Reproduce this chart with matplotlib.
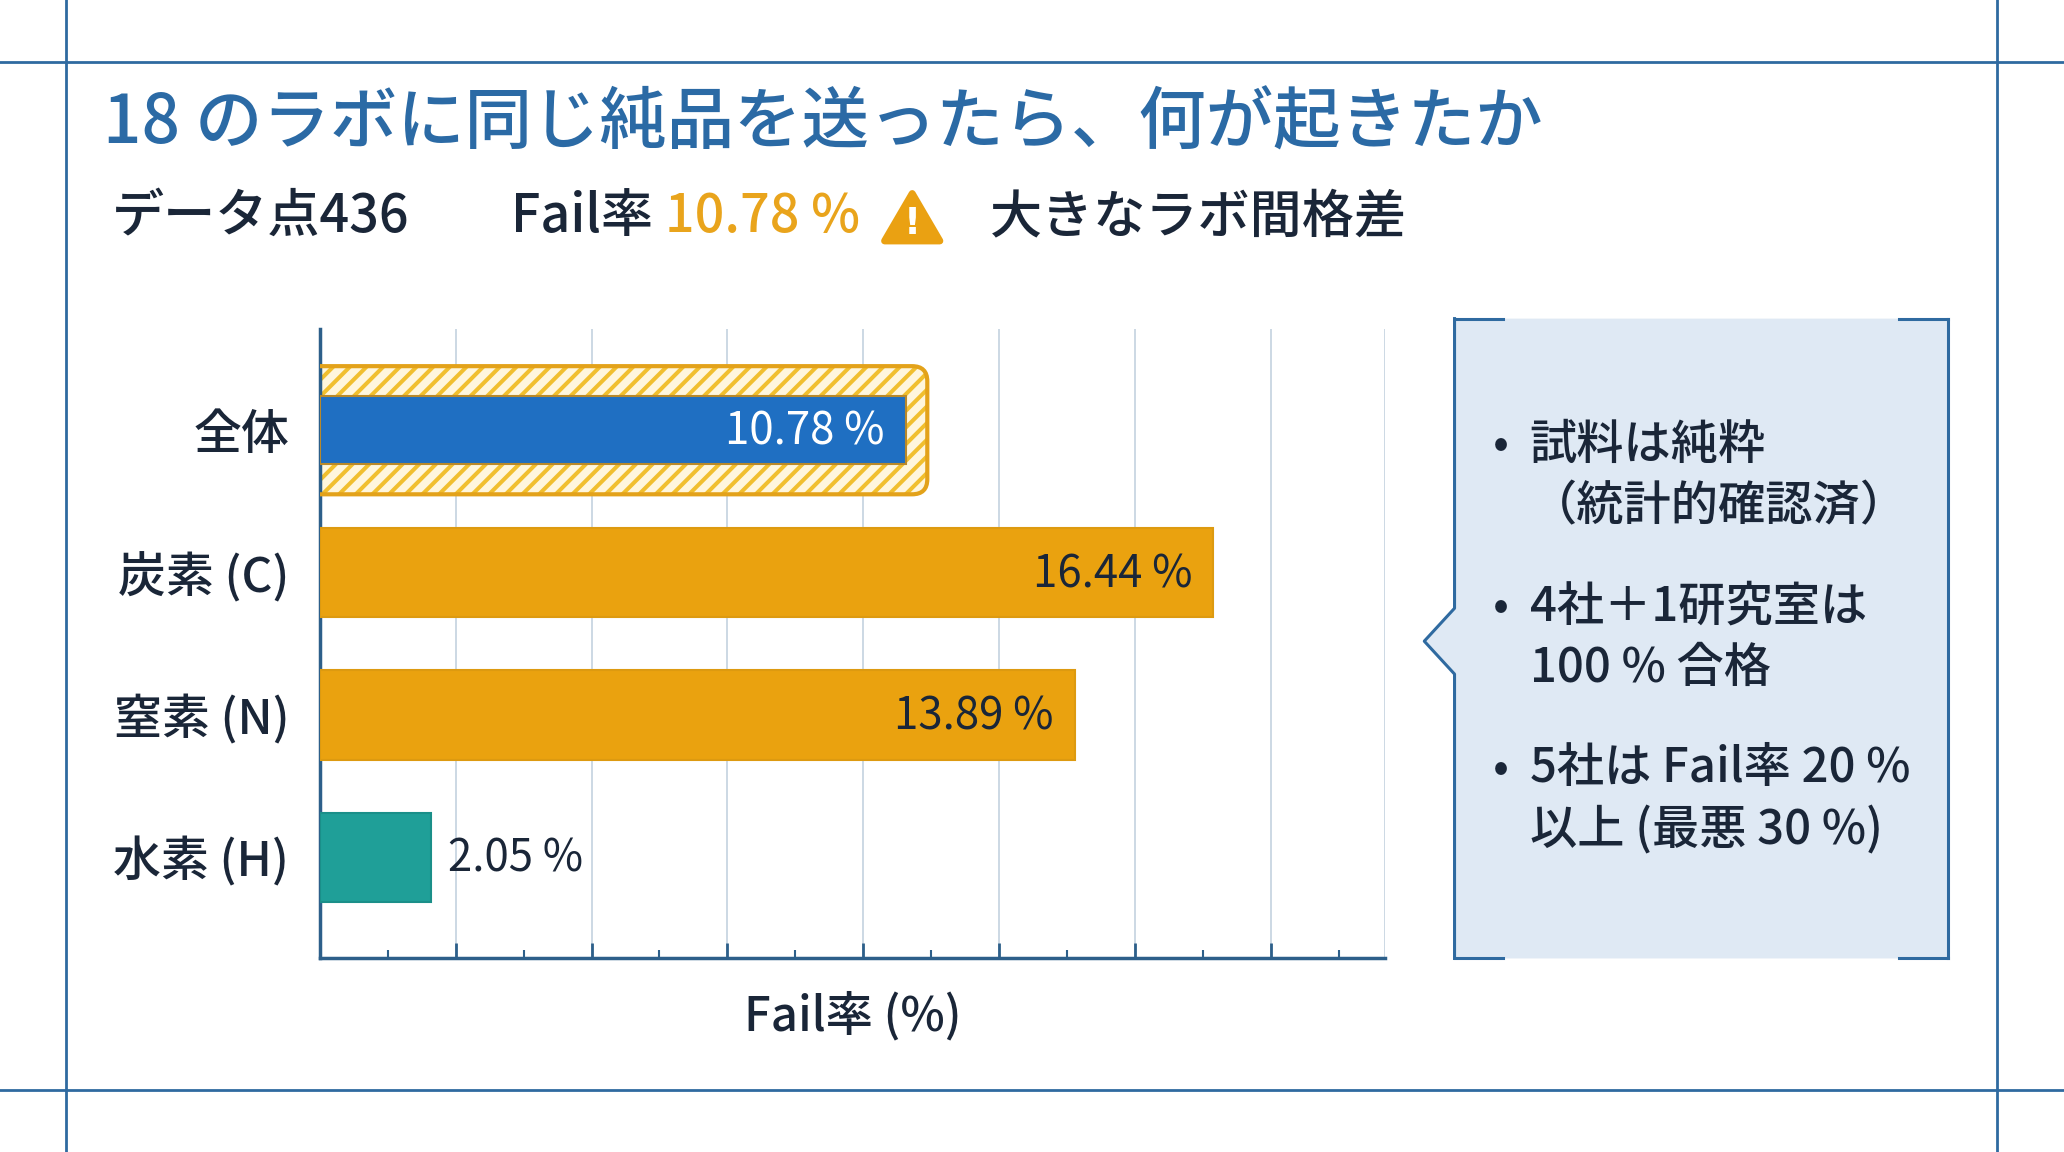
import matplotlib
matplotlib.use("Agg")
import matplotlib.pyplot as plt
from matplotlib.lines import Line2D
from matplotlib.patches import FancyBboxPatch, Polygon

plt.rcParams['font.family'] = ['Noto Sans CJK JP', 'DejaVu Sans']
plt.rcParams['hatch.linewidth'] = 2.9

# ---- datos ----
title = '18 のラボに同じ純品を送ったら、何が起きたか'
n_points = 436
overall_rate = 10.78
categories = ['全体', '炭素 (C)', '窒素 (N)', '水素 (H)']
fail_rates = [10.78, 16.44, 13.89, 2.05]
xlabel = 'Fail率 (%)'
notes = [
    ['試料は純粋', '（統計的確認済）'],
    ['4社＋1研究室は', '100 % 合格'],
    ['5社は Fail率 20 %', '以上 (最悪 30 %)'],
]

# ---- colores ----
BLUE_LINE = '#2f6aa0'
TITLE_BLUE = '#2b6aa5'
DARK = '#1a2638'
ORANGE = '#eaa20f'
BLUE_BAR = '#1f6fc2'
TEAL = '#1f9f98'
GRID = '#c8d5e2'
BOX_FILL = '#dfe9f4'

W, H = 1568, 875  # referencia (px) para posiciones


def fx(x):
    return x / W


def fy(y):
    return 1 - y / H


fig = plt.figure(figsize=(20.64, 11.52), dpi=100)
fig.patch.set_facecolor('white')

# marco de lineas
for y in (47, 828):
    fig.add_artist(Line2D([0, 1], [fy(y), fy(y)], transform=fig.transFigure,
                          color=BLUE_LINE, lw=2))
for x in (50, 1517):
    fig.add_artist(Line2D([fx(x), fx(x)], [0, 1], transform=fig.transFigure,
                          color=BLUE_LINE, lw=2))

# titulo y subtitulo
fig.text(fx(78), fy(94), title, fontsize=48.5, color=TITLE_BLUE,
         weight='medium', va='center', ha='left')
sub_y = fy(165)
fig.text(fx(85), sub_y, f'データ点{n_points}', fontsize=37.5, color=DARK,
         weight='medium', va='center', ha='left')
fig.text(fx(388), sub_y, 'Fail率', fontsize=37.5, color=DARK,
         weight='medium', va='center', ha='left')
fig.text(fx(505), sub_y, f'{overall_rate:.2f} %', fontsize=37.5, color='#e9a41c',
         weight='medium', va='center', ha='left')
fig.text(fx(752), sub_y, '大きなラボ間格差', fontsize=37.5, color=DARK,
         weight='medium', va='center', ha='left')

# icono de advertencia
tri = Polygon([[fx(672), fy(183)], [fx(714), fy(183)], [fx(693), fy(147)]],
              closed=True, transform=fig.transFigure, facecolor='#eaa112',
              edgecolor='#eaa112', lw=5, joinstyle='round')
fig.add_artist(tri)
fig.text(fx(693), fy(170), '!', fontsize=27, color='white', weight='bold',
         ha='center', va='center', family='DejaVu Sans')

# ---- grafico de barras ----
ax = fig.add_axes([fx(243), fy(728), fx(1052) - fx(243), fy(250) - fy(728)])
ypos = list(range(len(categories)))
ax.set_xlim(0, 19.6)
ax.set_ylim(3.71, -0.71)

ax.set_xticks([i * 2.5 for i in range(8)])
ax.set_xticks([i * 1.25 for i in range(16)], minor=True)
ax.grid(axis='x', which='major', color=GRID, lw=1.3)
ax.axvline(19.6, color=GRID, lw=1.3)
ax.set_axisbelow(True)
ax.tick_params(axis='x', which='major', direction='in', length=11, width=2,
               color='#2d5f8a', labelbottom=False)
ax.tick_params(axis='x', which='minor', direction='in', length=6, width=1.5,
               color='#2d5f8a')
ax.tick_params(axis='y', length=0, pad=22)
ax.set_yticks(ypos)
ax.set_yticklabels(categories, fontsize=34.5, color=DARK, weight='medium')
for s in ('top', 'right'):
    ax.spines[s].set_visible(False)
for s in ('left', 'bottom'):
    ax.spines[s].set_color('#2d5f8a')
    ax.spines[s].set_linewidth(2.5)

# marco rayado de "全体"
frame_w = fail_rates[0] + 0.4
frame_h = 0.9
ax.add_patch(FancyBboxPatch((-0.3, ypos[0] - frame_h / 2), frame_w + 0.3, frame_h,
                            boxstyle='round,pad=0,rounding_size=0.28',
                            mutation_aspect=0.38, facecolor='#fff6dc',
                            edgecolor='#f1bf2e', hatch='//', lw=0, zorder=2))
ax.add_patch(FancyBboxPatch((-0.3, ypos[0] - frame_h / 2), frame_w + 0.3, frame_h,
                            boxstyle='round,pad=0,rounding_size=0.28',
                            mutation_aspect=0.38, facecolor='none',
                            edgecolor='#e3a21a', lw=3, zorder=3))

bar_colors = [BLUE_BAR, ORANGE, ORANGE, TEAL]
bar_heights = [0.48, 0.63, 0.63, 0.63]
edge_colors = ['#b9892a', '#dd9a10', '#dd9a10', '#1a8f89']
ax.barh(ypos, fail_rates, height=bar_heights, color=bar_colors,
        edgecolor=edge_colors, lw=1.5, zorder=4)

label_colors = ['white', DARK, DARK, DARK]
for i, v in enumerate(fail_rates):
    if v > 5:
        ax.text(v - 0.38, ypos[i] + 0.01, f'{v:.2f} %', ha='right', va='center',
                fontsize=31.5, color=label_colors[i], zorder=5)
    else:
        ax.text(v + 0.3, ypos[i] + 0.01, f'{v:.2f} %', ha='left', va='center',
                fontsize=31.5, color=label_colors[i], zorder=5)

fig.text(fx(648), fy(772), xlabel, fontsize=34, color=DARK, weight='medium',
         ha='center', va='center')

# ---- cuadro de notas ----
box = Polygon([[fx(1105), fy(242)], [fx(1480), fy(242)], [fx(1480), fy(728)],
               [fx(1105), fy(728)], [fx(1105), fy(512)], [fx(1082), fy(487)],
               [fx(1105), fy(462)]], closed=True, transform=fig.transFigure,
              facecolor=BOX_FILL, edgecolor='none')
fig.add_artist(box)
segs = [
    ([1105, 1105, 1082, 1105, 1105], [242, 462, 487, 512, 728]),
    ([1480, 1480], [242, 728]),
    ([1105, 1142], [242, 242]), ([1443, 1480], [242, 242]),
    ([1105, 1142], [728, 728]), ([1443, 1480], [728, 728]),
]
for xs, ys in segs:
    fig.add_artist(Line2D([fx(v) for v in xs], [fy(v) for v in ys],
                          transform=fig.transFigure, color=BLUE_LINE, lw=2.2))

y0 = 338
for lines in notes:
    fig.text(fx(1140), fy(y0), '•', fontsize=34, color=DARK, ha='center', va='center')
    for j, line in enumerate(lines):
        fig.text(fx(1162), fy(y0 + j * 47), line, fontsize=34, color=DARK,
                 weight='medium', ha='left', va='center')
    y0 += 123

fig.savefig('out.png', dpi=100, facecolor='white')
